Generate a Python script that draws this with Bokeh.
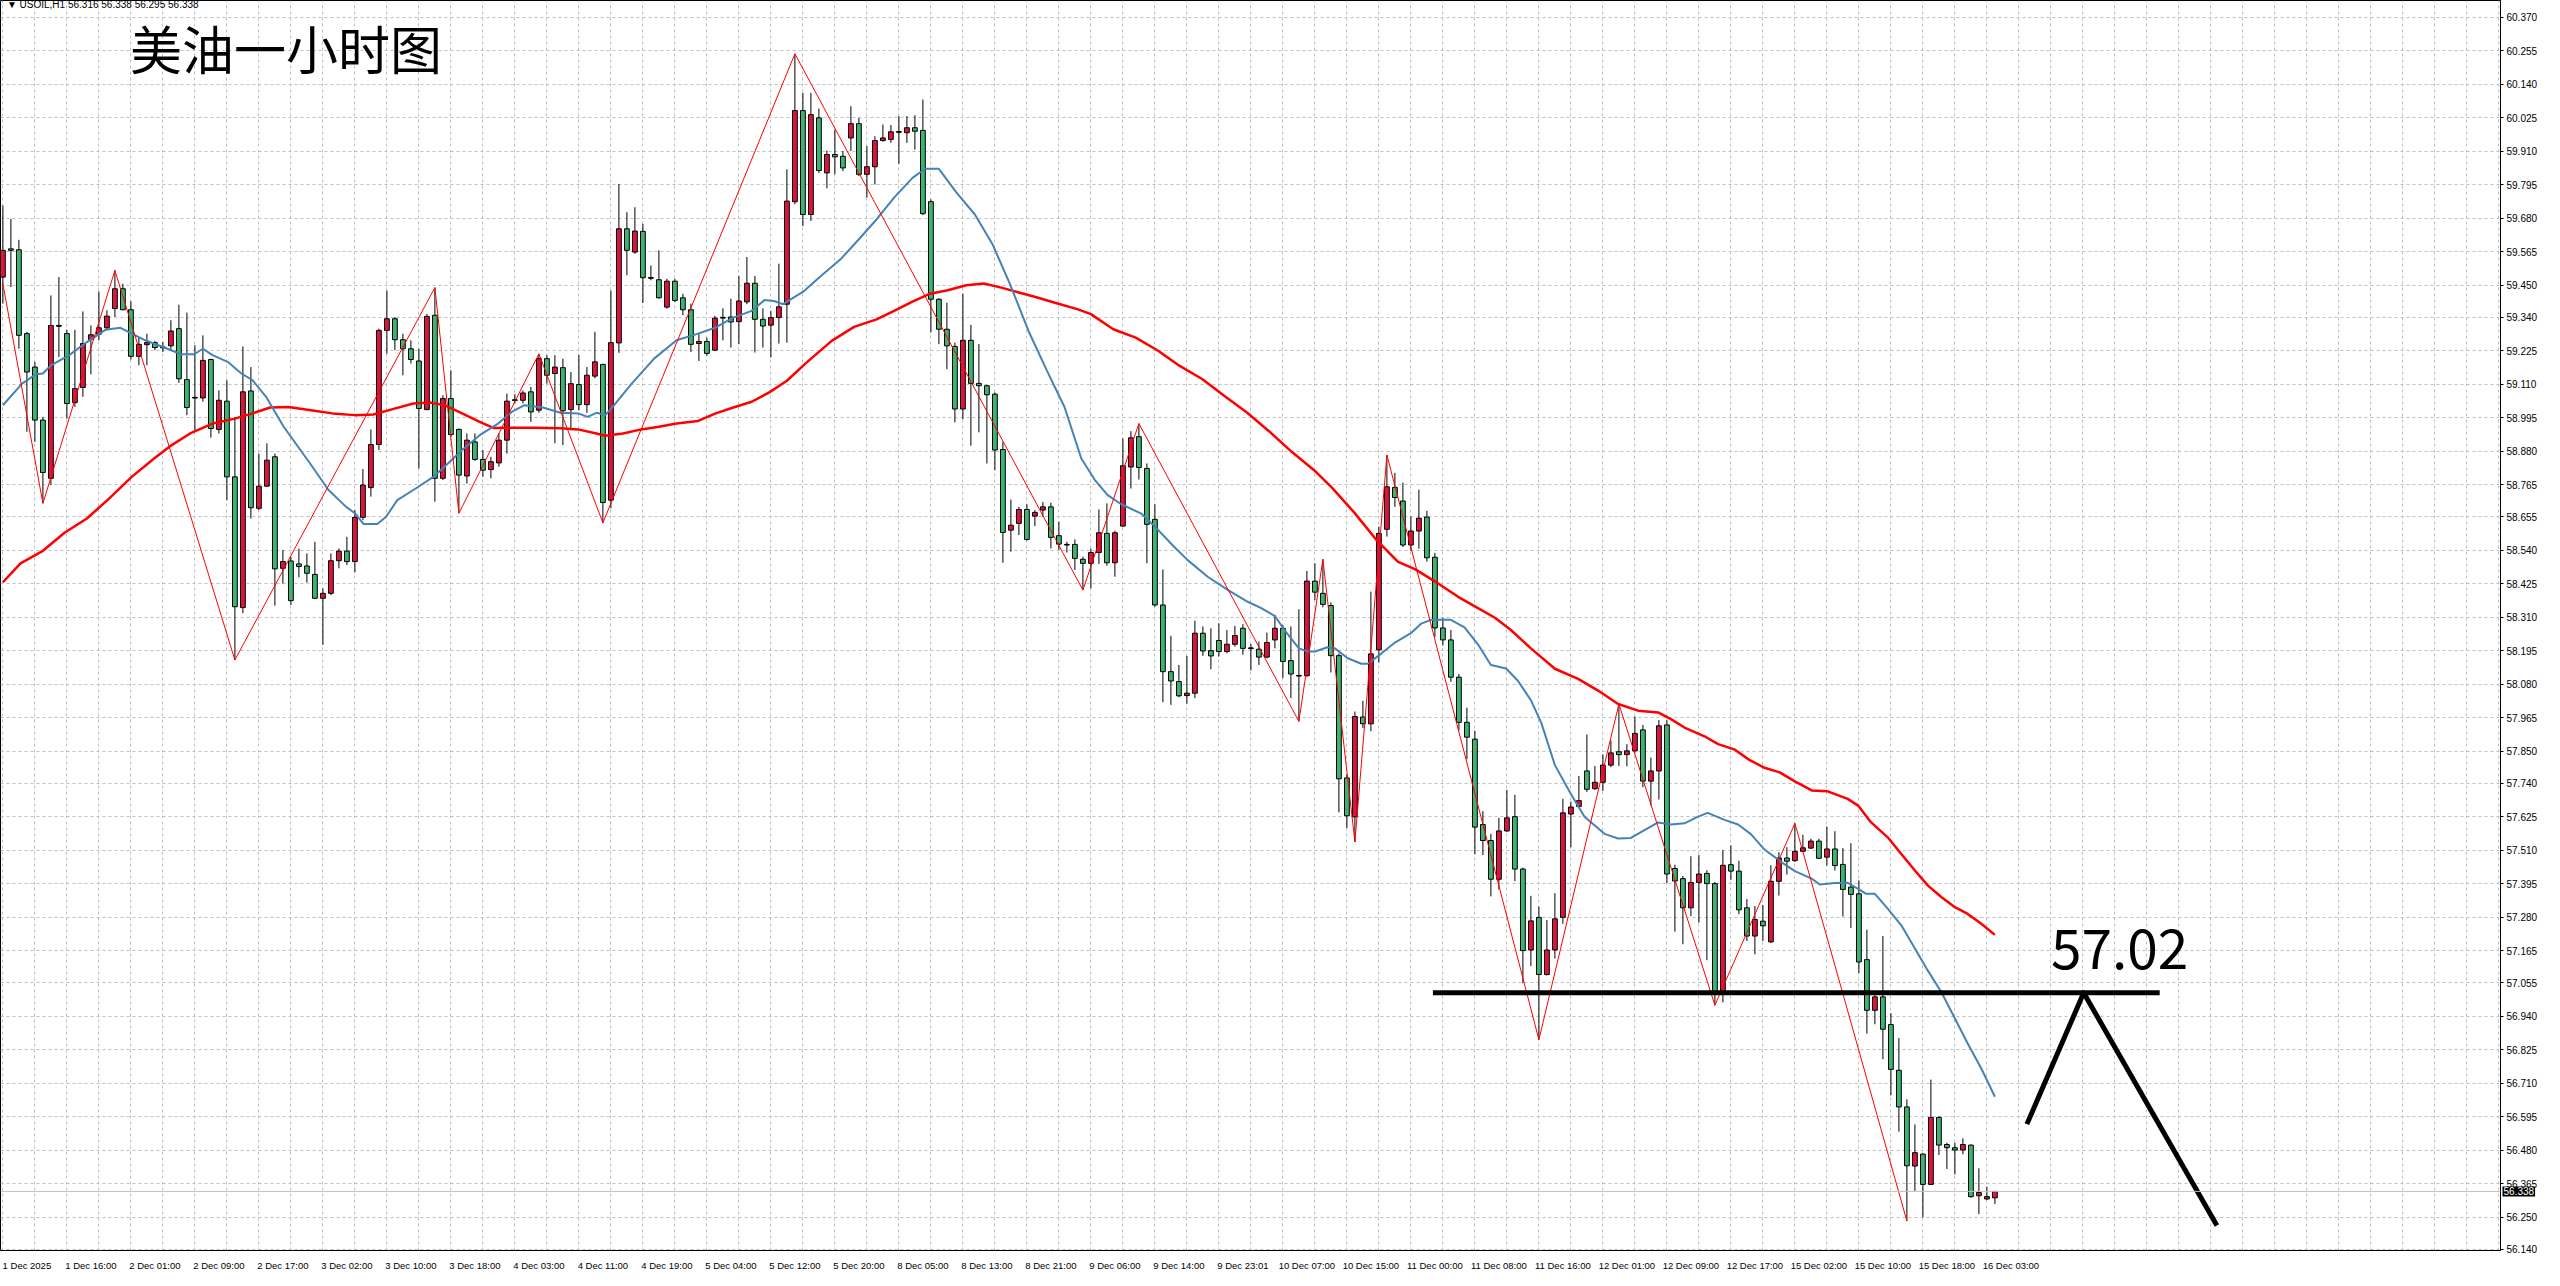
from bokeh.plotting import figure
from bokeh.models import ColumnDataSource, FixedTicker, PrintfTickFormatter, Span, Label
from bokeh.embed import file_html
from bokeh.resources import INLINE

# ---------------- data ----------------
time_labels = ["1 Dec 2025", "1 Dec 16:00", "2 Dec 01:00", "2 Dec 09:00", "2 Dec 17:00",
               "3 Dec 02:00", "3 Dec 10:00", "3 Dec 18:00", "4 Dec 03:00", "4 Dec 11:00",
               "4 Dec 19:00", "5 Dec 04:00", "5 Dec 12:00", "5 Dec 20:00", "8 Dec 05:00",
               "8 Dec 13:00", "8 Dec 21:00", "9 Dec 06:00", "9 Dec 14:00", "9 Dec 23:01",
               "10 Dec 07:00", "10 Dec 15:00", "11 Dec 00:00", "11 Dec 08:00", "11 Dec 16:00",
               "12 Dec 01:00", "12 Dec 09:00", "12 Dec 17:00", "15 Dec 02:00", "15 Dec 10:00",
               "15 Dec 18:00", "16 Dec 03:00"]

price_ticks = [60.370, 60.255, 60.140, 60.025, 59.910, 59.795, 59.680, 59.565, 59.450, 59.340,
               59.225, 59.110, 58.995, 58.880, 58.765, 58.655, 58.540, 58.425, 58.310, 58.195,
               58.080, 57.965, 57.850, 57.740, 57.625, 57.510, 57.395, 57.280, 57.165, 57.055,
               56.940, 56.825, 56.710, 56.595, 56.480, 56.365, 56.250, 56.140]

opens = [59.478, 59.575, 59.572, 59.284, 59.169, 58.987, 58.787, 59.312, 59.284, 59.047,
         59.099, 59.264, 59.282, 59.304, 59.370, 59.438, 59.366, 59.206, 59.246, 59.253,
         59.238, 59.242, 59.301, 59.126, 59.065, 59.063, 59.195, 58.955, 59.052, 58.792,
         58.343, 59.087, 58.684, 58.760, 58.861, 58.478, 58.503, 58.493, 58.486, 58.457,
         58.375, 58.392, 58.504, 58.537, 58.501, 58.653, 58.755, 58.903, 59.295, 59.335,
         59.263, 59.232, 59.190, 59.023, 59.347, 58.787, 59.061, 58.955, 58.795, 58.912,
         58.852, 58.817, 58.840, 58.918, 59.055, 59.055, 59.084, 59.021, 59.198, 59.147,
         59.167, 59.023, 59.109, 59.040, 59.138, 59.178, 58.712, 59.252, 59.644, 59.564,
         59.635, 59.476, 59.469, 59.375, 59.464, 59.407, 59.366, 59.250, 59.257, 59.227,
         59.338, 59.341, 59.325, 59.393, 59.457, 59.333, 59.313, 59.339, 59.385, 59.737,
         60.050, 59.693, 60.025, 59.836, 59.899, 59.893, 59.956, 60.005, 59.831, 59.857,
         59.947, 59.951, 59.976, 59.974, 59.991, 59.982, 59.737, 59.402, 59.299, 59.240,
         59.025, 59.261, 59.113, 59.105, 59.076, 58.886, 58.609, 58.632, 58.680, 58.657,
         58.678, 58.689, 58.590, 58.560, 58.560, 58.509, 58.495, 58.532, 58.598, 58.497,
         58.623, 58.826, 58.930, 58.821, 58.646, 58.352, 58.123, 58.089, 58.041, 58.049,
         58.255, 58.195, 58.230, 58.192, 58.217, 58.272, 58.204, 58.200, 58.173, 58.232,
         58.272, 58.161, 58.110, 58.109, 58.434, 58.392, 58.350, 58.178, 57.758, 57.624,
         57.967, 57.944, 58.198, 58.612, 58.756, 58.709, 58.558, 58.606, 58.654, 58.516,
         58.273, 58.232, 58.104, 57.949, 57.891, 57.598, 57.543, 57.410, 57.576, 57.625,
         57.445, 57.167, 57.279, 57.083, 57.167, 57.279, 57.634, 57.660, 57.782, 57.721,
         57.743, 57.802, 57.848, 57.838, 57.851, 57.923, 57.747, 57.782, 57.940, 57.447,
         57.412, 57.312, 57.399, 57.430, 57.395, 57.018, 57.460, 57.438, 57.312, 57.215,
         57.266, 57.195, 57.403, 57.483, 57.474, 57.506, 57.517, 57.541, 57.486, 57.514,
         57.461, 57.383, 57.360, 57.134, 56.960, 57.006, 56.911, 56.754, 56.628, 56.425,
         56.466, 56.362, 56.592, 56.499, 56.488, 56.480, 56.497, 56.323, 56.312, 56.316]

highs = [59.724, 59.678, 59.606, 59.290, 59.187, 58.998, 59.415, 59.478, 59.297, 59.297,
         59.360, 59.312, 59.429, 59.364, 59.501, 59.455, 59.395, 59.272, 59.284, 59.259,
         59.255, 59.330, 59.383, 59.356, 59.244, 59.278, 59.198, 59.089, 59.124, 58.998,
         59.240, 59.169, 58.872, 58.907, 58.872, 58.541, 58.518, 58.546, 58.529, 58.569,
         58.409, 58.529, 58.546, 58.586, 58.678, 58.819, 58.955, 59.301, 59.432, 59.341,
         59.284, 59.261, 59.232, 59.352, 59.442, 59.072, 59.158, 58.958, 58.941, 58.941,
         58.884, 58.861, 58.941, 59.078, 59.076, 59.089, 59.101, 59.213, 59.210, 59.210,
         59.198, 59.152, 59.210, 59.169, 59.290, 59.181, 59.432, 59.798, 59.701, 59.718,
         59.661, 59.518, 59.570, 59.472, 59.472, 59.421, 59.387, 59.282, 59.270, 59.345,
         59.371, 59.404, 59.482, 59.547, 59.482, 59.371, 59.362, 59.524, 59.848, 60.245,
         60.111, 60.111, 60.057, 59.913, 59.985, 59.911, 60.065, 60.025, 59.928, 59.962,
         60.002, 60.000, 60.031, 60.031, 60.034, 60.088, 59.745, 59.405, 59.390, 59.253,
         59.421, 59.314, 59.248, 59.108, 59.082, 58.912, 58.714, 58.689, 58.698, 58.678,
         58.706, 58.703, 58.638, 58.569, 58.577, 58.518, 58.546, 58.680, 58.701, 58.607,
         58.924, 58.949, 58.975, 58.838, 58.698, 58.474, 58.246, 58.146, 58.177, 58.298,
         58.278, 58.272, 58.289, 58.266, 58.280, 58.286, 58.218, 58.226, 58.257, 58.318,
         58.283, 58.278, 58.337, 58.469, 58.495, 58.509, 58.361, 58.186, 57.769, 57.986,
         58.023, 58.398, 58.621, 58.867, 58.806, 58.772, 58.656, 58.748, 58.675, 58.531,
         58.308, 58.266, 58.115, 57.999, 57.920, 57.644, 57.566, 57.621, 57.717, 57.700,
         57.450, 57.353, 57.316, 57.270, 57.362, 57.686, 57.677, 57.765, 57.907, 57.799,
         57.839, 57.887, 58.012, 57.874, 57.969, 57.940, 57.828, 57.957, 57.956, 57.460,
         57.421, 57.489, 57.493, 57.441, 57.401, 57.510, 57.526, 57.474, 57.342, 57.318,
         57.322, 57.458, 57.503, 57.520, 57.602, 57.563, 57.549, 57.549, 57.591, 57.575,
         57.517, 57.534, 57.406, 57.237, 57.021, 57.215, 56.950, 56.865, 56.654, 56.568,
         56.468, 56.722, 56.596, 56.505, 56.505, 56.520, 56.499, 56.417, 56.354, 56.338]

lows = [59.387, 59.444, 59.232, 58.947, 58.912, 58.701, 58.764, 59.204, 58.992, 59.032,
        59.067, 59.144, 59.261, 59.295, 59.341, 59.364, 59.195, 59.175, 59.175, 59.227,
        59.221, 59.227, 59.115, 59.004, 58.947, 59.050, 58.927, 58.941, 58.712, 58.163,
        58.324, 58.649, 58.678, 58.758, 58.350, 58.426, 58.352, 58.447, 58.429, 58.372,
        58.215, 58.386, 58.478, 58.489, 58.464, 58.644, 58.724, 58.884, 59.215, 59.227,
        59.141, 59.181, 58.821, 59.021, 58.707, 58.781, 58.929, 58.667, 58.769, 58.847,
        58.792, 58.787, 58.827, 58.872, 59.044, 59.044, 58.981, 59.012, 59.112, 58.907,
        58.901, 58.952, 59.021, 59.012, 59.130, 58.634, 58.684, 59.218, 59.484, 59.558,
        59.389, 59.467, 59.404, 59.370, 59.392, 59.347, 59.221, 59.190, 59.208, 59.225,
        59.261, 59.236, 59.248, 59.385, 59.219, 59.236, 59.202, 59.250, 59.253, 59.728,
        59.653, 59.671, 59.836, 59.783, 59.831, 59.842, 59.911, 59.825, 59.751, 59.796,
        59.943, 59.939, 59.867, 59.939, 59.916, 59.691, 59.288, 59.248, 59.162, 58.979,
        58.990, 58.899, 58.945, 58.838, 58.815, 58.497, 58.535, 58.592, 58.573, 58.623,
        58.655, 58.546, 58.541, 58.532, 58.472, 58.403, 58.409, 58.493, 58.487, 58.449,
        58.621, 58.752, 58.783, 58.495, 58.346, 58.018, 58.009, 58.035, 58.013, 58.032,
        58.177, 58.131, 58.175, 58.186, 58.209, 58.181, 58.127, 58.146, 58.169, 58.203,
        58.101, 58.032, 57.952, 58.106, 58.369, 58.344, 58.120, 57.640, 57.586, 57.538,
        57.929, 57.918, 58.154, 58.587, 58.689, 58.551, 58.538, 58.545, 58.501, 58.242,
        58.213, 58.088, 57.920, 57.822, 57.496, 57.493, 57.351, 57.375, 57.572, 57.404,
        57.053, 57.112, 56.859, 57.079, 57.138, 57.257, 57.520, 57.658, 57.710, 57.717,
        57.713, 57.795, 57.799, 57.798, 57.844, 57.726, 57.664, 57.684, 57.397, 57.230,
        57.187, 57.283, 57.261, 57.132, 56.977, 56.987, 57.408, 57.290, 57.198, 57.152,
        57.198, 57.191, 57.354, 57.426, 57.469, 57.503, 57.514, 57.480, 57.457, 57.440,
        57.282, 57.243, 57.088, 56.880, 56.912, 56.792, 56.668, 56.543, 56.236, 56.339,
        56.249, 56.360, 56.463, 56.415, 56.396, 56.465, 56.316, 56.260, 56.308, 56.295]

closes = [59.570, 59.570, 59.278, 59.152, 58.987, 58.807, 59.312, 59.310, 59.044, 59.095,
          59.250, 59.280, 59.304, 59.344, 59.438, 59.366, 59.206, 59.247, 59.253, 59.236,
          59.236, 59.293, 59.129, 59.030, 59.064, 59.192, 58.958, 59.055, 58.792, 58.346,
          59.084, 58.686, 58.760, 58.849, 58.476, 58.501, 58.367, 58.484, 58.461, 58.375,
          58.392, 58.504, 58.537, 58.501, 58.653, 58.764, 58.903, 59.295, 59.335, 59.263,
          59.232, 59.195, 59.027, 59.343, 58.787, 59.061, 58.937, 58.798, 58.918, 58.852,
          58.815, 58.844, 58.918, 59.052, 59.056, 59.080, 59.015, 59.198, 59.141, 59.169,
          59.019, 59.112, 59.040, 59.141, 59.187, 58.704, 59.253, 59.644, 59.570, 59.636,
          59.476, 59.475, 59.407, 59.464, 59.398, 59.366, 59.247, 59.257, 59.216, 59.337,
          59.339, 59.324, 59.396, 59.457, 59.333, 59.310, 59.339, 59.376, 59.739, 60.050,
          59.693, 60.036, 59.844, 59.899, 59.891, 59.853, 60.005, 59.831, 59.857, 59.947,
          59.956, 59.977, 59.977, 59.991, 59.979, 59.696, 59.402, 59.299, 59.242, 59.025,
          59.261, 59.113, 59.105, 59.074, 58.884, 58.601, 58.626, 58.680, 58.577, 58.670,
          58.689, 58.584, 58.561, 58.559, 58.512, 58.495, 58.532, 58.600, 58.497, 58.600,
          58.830, 58.926, 58.824, 58.629, 58.352, 58.123, 58.091, 58.040, 58.049, 58.255,
          58.194, 58.177, 58.192, 58.217, 58.247, 58.203, 58.203, 58.173, 58.223, 58.272,
          58.158, 58.115, 58.109, 58.434, 58.396, 58.354, 58.178, 57.755, 57.628, 57.969,
          57.944, 58.184, 58.598, 58.758, 58.721, 58.558, 58.606, 58.650, 58.514, 58.273,
          58.232, 58.104, 57.949, 57.898, 57.589, 57.543, 57.410, 57.576, 57.621, 57.445,
          57.165, 57.267, 57.083, 57.167, 57.274, 57.638, 57.658, 57.680, 57.719, 57.743,
          57.802, 57.844, 57.838, 57.851, 57.911, 57.747, 57.782, 57.937, 57.428, 57.404,
          57.312, 57.399, 57.428, 57.395, 57.020, 57.458, 57.438, 57.305, 57.215, 57.272,
          57.250, 57.403, 57.483, 57.472, 57.506, 57.518, 57.541, 57.482, 57.514, 57.457,
          57.375, 57.358, 57.126, 56.960, 57.006, 56.895, 56.757, 56.628, 56.426, 56.471,
          56.362, 56.592, 56.497, 56.488, 56.480, 56.499, 56.320, 56.334, 56.320, 56.338]

# fast moving average (blue): bar index / price
ma_fast_bar = [0, 2.4, 4.1, 5, 6, 8.3, 10.5, 12.8, 14.7, 16.1, 17.8, 20, 22.3, 23.9, 25, 26.2,
               28.1, 29.8, 31.2, 32.9, 35.1, 38.4, 40.7, 42.9, 44, 45.1, 46.8, 47.9, 49.3, 51.6,
               53.8, 55.2, 57.4, 59.6, 61.9, 63.6, 65.2, 67.5, 69.7, 71.9, 73.1, 74.2, 75.3, 76.4,
               78.6, 81.4, 84.2, 86.9, 89.1, 91.3, 93.6, 95.2, 96.4, 97.5, 100, 102, 104.7, 107,
               109.2, 111.4, 113.7, 115.3, 117, 119.2, 121.5, 123.7, 125.9, 128.2, 130.5, 132.7,
               134.8, 136.5, 138.1, 139.8, 142.3, 144, 146.4, 148.1, 150.6, 153.1, 155.6, 157.3,
               159, 160.2, 162, 163.1, 164, 165.6, 166.5, 168.1, 169.8, 170.6, 172.3, 174, 176,
               177.3, 178.5, 181, 182.7, 184.4, 186, 187.9, 189.4, 191, 192.3, 194, 196, 197.7,
               200.2, 201.9, 203.5, 205.2, 206.9, 208.5, 210.2, 211.9, 213.1, 215.2, 216.9, 218.5,
               220.2, 222.3, 224, 226.1, 227.1, 229, 230.6, 231.9, 232.9, 234, 235.6, 237.3, 239,
               240.6, 242.3, 244, 245.6, 247.3, 249]
ma_fast = [59.038, 59.112, 59.144, 59.147, 59.175, 59.210, 59.255, 59.297, 59.304, 59.284, 59.261,
           59.238, 59.213, 59.213, 59.232, 59.210, 59.187, 59.147, 59.124, 59.067, 58.964, 58.838,
           58.747, 58.689, 58.667, 58.630, 58.630, 58.655, 58.712, 58.752, 58.792, 58.827, 58.884,
           58.935, 58.975, 59.015, 59.038, 59.030, 59.012, 59.010, 58.998, 59.012, 59.004, 59.038,
           59.112, 59.198, 59.261, 59.284, 59.305, 59.339, 59.362, 59.399, 59.396, 59.385, 59.427,
           59.476, 59.539, 59.608, 59.676, 59.751, 59.819, 59.850, 59.850, 59.768, 59.693, 59.591,
           59.453, 59.293, 59.157, 59.032, 58.855, 58.781, 58.729, 58.698, 58.666, 58.621, 58.552,
           58.506, 58.449, 58.404, 58.363, 58.341, 58.314, 58.266, 58.203, 58.192, 58.192, 58.207,
           58.203, 58.169, 58.150, 58.150, 58.185, 58.223, 58.255, 58.288, 58.301, 58.301, 58.275,
           58.216, 58.146, 58.134, 58.091, 58.025, 57.947, 57.802, 57.703, 57.625, 57.566, 57.550,
           57.552, 57.579, 57.605, 57.598, 57.602, 57.625, 57.638, 57.614, 57.598, 57.565, 57.512,
           57.469, 57.438, 57.412, 57.392, 57.397, 57.398, 57.377, 57.360, 57.360, 57.309, 57.252,
           57.172, 57.097, 57.023, 56.932, 56.846, 56.760, 56.663]

# slow moving average (red)
ma_slow_bar = [0, 2.2, 5, 7.7, 10.5, 13.3, 16.1, 18.9, 21.1, 23.4, 26.2, 29, 31.2, 33.4, 35.7,
               38.5, 41.2, 44, 46.3, 48.5, 51.3, 53.5, 55.2, 57.4, 59.6, 61.3, 64.1, 66.3, 69.7,
               71.9, 74.2, 75.3, 77.5, 79.8, 82, 84.2, 86.9, 89.1, 91.3, 93.6, 95.8, 98, 100.3,
               103.6, 106.4, 109.2, 111.4, 113.7, 115.9, 118.1, 120.4, 122.6, 124.8, 127, 129.3,
               131.5, 134.3, 136, 138.8, 141.6, 144.4, 147.1, 149.9, 152.7, 155.5, 158.3, 161.1,
               163.9, 166.1, 168.9, 171.7, 174.4, 176.5, 179.4, 181.9, 184, 186.5, 188.5, 191, 194,
               196.9, 199.4, 201.9, 204.4, 206.9, 208.5, 210.2, 212.7, 214.4, 216.5, 218.3, 220.1,
               222.1, 224, 226.1, 228.1, 230.6, 231.9, 233.5, 235.6, 237.3, 239, 240.6, 242.3, 244,
               245.6, 247.3, 249]
ma_slow = [58.430, 58.495, 58.538, 58.600, 58.649, 58.718, 58.792, 58.855, 58.901, 58.941, 58.975,
           58.992, 59.010, 59.030, 59.032, 59.021, 59.010, 59.004, 59.006, 59.023, 59.044, 59.047,
           59.038, 59.010, 58.981, 58.960, 58.961, 58.961, 58.959, 58.955, 58.941, 58.933, 58.941,
           58.955, 58.964, 58.975, 58.984, 59.010, 59.030, 59.050, 59.082, 59.122, 59.181, 59.259,
           59.307, 59.333, 59.362, 59.394, 59.421, 59.433, 59.450, 59.456, 59.442, 59.425, 59.408,
           59.390, 59.368, 59.351, 59.299, 59.270, 59.225, 59.173, 59.128, 59.070, 59.013, 58.948,
           58.878, 58.815, 58.756, 58.670, 58.575, 58.500, 58.475, 58.426, 58.380, 58.347, 58.308,
           58.266, 58.203, 58.133, 58.098, 58.058, 58.012, 57.989, 57.983, 57.960, 57.931, 57.901,
           57.874, 57.855, 57.820, 57.794, 57.777, 57.746, 57.715, 57.712, 57.686, 57.663, 57.606,
           57.554, 57.497, 57.440, 57.389, 57.349, 57.314, 57.291, 57.257, 57.219]

# zigzag pivots
zz_bar = [0, 5, 14, 29, 54, 57, 67, 75, 99, 135, 142, 162, 165, 169, 173, 192, 202, 214, 224, 238]
zz_price = [59.455, 58.701, 59.501, 58.163, 59.442, 58.667, 59.215, 58.634, 60.245, 58.403,
            58.975, 57.952, 58.509, 57.538, 58.867, 56.859, 58.012, 56.977, 57.602, 56.236]

# hand-drawn annotations
level_price = 57.02
level_bars = [178.75, 269.6]
sketch_bars = [253.0, 260.1, 276.75]
sketch_prices = [56.569, 57.02, 56.221]

title_text = "美油一小时图"
info_text = "▼ USOIL,H1  56.316 56.338 56.295 56.338"

# ---------------- figure ----------------
X0 = -0.3
FW = 2500
p = figure(frame_width=FW, frame_height=1250,
           x_range=(X0, X0 + FW / 8.0), y_range=(56.135, 60.428),
           output_backend="svg", toolbar_location=None, y_axis_location="right",
           min_border_left=0, min_border_top=0, min_border_bottom=0, min_border_right=0,
           background_fill_color="white", border_fill_color="white",
           outline_line_color="black", outline_line_width=1)

# axes
p.xaxis.ticker = FixedTicker(ticks=[8 * k + 3 for k in range(len(time_labels))])
p.xaxis.major_label_overrides = {8 * k + 3: lab for k, lab in enumerate(time_labels)}
p.xaxis.major_tick_line_color = None
p.xaxis.minor_tick_line_color = None
p.xaxis.axis_line_color = "black"
p.xaxis.major_label_standoff = 3
p.xaxis.major_label_text_font = "Liberation Sans"
p.xaxis.major_label_text_font_size = "9.5px"
p.xaxis.major_label_text_color = "black"

p.yaxis.ticker = FixedTicker(ticks=price_ticks)
p.yaxis.formatter = PrintfTickFormatter(format="%.3f")
p.yaxis.major_tick_out = 3
p.yaxis.major_tick_in = 0
p.yaxis.minor_tick_line_color = None
p.yaxis.axis_line_color = "black"
p.yaxis.major_label_standoff = 3
p.yaxis.major_label_text_font = "Liberation Sans"
p.yaxis.major_label_text_font_size = "10px"
p.yaxis.major_label_text_color = "black"

p.xgrid.ticker = FixedTicker(ticks=list(range(0, 320, 4)))
for g in (p.xgrid, p.ygrid):
    g.grid_line_color = "#c0c0c0"
    g.grid_line_dash = "3 3"
    g.grid_line_width = 1

# bid line
p.add_layout(Span(location=closes[-1], dimension="width", line_color="#c0c0c0", line_width=1))

# candles
n = len(opens)
bars = list(range(n))
up_c = "#dc143c"
dn_c = "#3cb371"
src = ColumnDataSource(dict(
    x=bars, o=opens, h=highs, l=lows, c=closes,
    top=[max(a, b) for a, b in zip(opens, closes)],
    bot=[min(a, b) for a, b in zip(opens, closes)],
    col=[up_c if c >= o else dn_c for o, c in zip(opens, closes)],
))
p.segment(x0="x", y0="h", x1="x", y1="l", source=src, line_color="black", line_width=1)
p.vbar(x="x", width=0.6, top="top", bottom="bot", source=src,
       fill_color="col", line_color="black", line_width=1)
doji = [i for i in bars if abs(opens[i] - closes[i]) < 0.004]
p.segment(x0=[i - 0.3 for i in doji], x1=[i + 0.3 for i in doji],
          y0=[closes[i] for i in doji], y1=[closes[i] for i in doji],
          line_color="black", line_width=1.5)

# moving averages
p.line(ma_slow_bar, ma_slow, line_color="#ff0000", line_width=2.5)
p.line(ma_fast_bar, ma_fast, line_color="#4682b4", line_width=2)

# zigzag
p.line(zz_bar, zz_price, line_color="#ff0000", line_width=1)

# annotations
p.line(level_bars, [level_price, level_price], line_color="black", line_width=5)
p.line(sketch_bars, sketch_prices, line_color="black", line_width=5, line_join="round")

p.add_layout(Label(x=264.6, y=57.17, text="57.02", text_align="center",
                   text_baseline="alphabetic", text_font="Noto Sans CJK SC",
                   text_font_size="55px", text_color="black"))
p.add_layout(Label(x=15.9, y=60.265, text=title_text, text_align="left",
                   text_baseline="middle", text_font="Noto Sans CJK SC",
                   text_font_size="52px", text_color="black"))
p.add_layout(Label(x=0.5, y=60.414, text=info_text, text_align="left",
                   text_baseline="middle", text_font="Liberation Sans",
                   text_font_size="10px", text_color="black"))
# current price box on the price scale (placed in the right side panel so it is not clipped)
p.add_layout(Label(x=X0 + FW / 8.0, y=closes[-1], x_offset=2, text="%.3f" % closes[-1],
                   text_align="left", text_baseline="middle", text_font="Liberation Sans",
                   text_font_size="10px", text_color="white",
                   background_fill_color="black", padding=1), "right")

open("out.html", "w").write(file_html(p, INLINE))
